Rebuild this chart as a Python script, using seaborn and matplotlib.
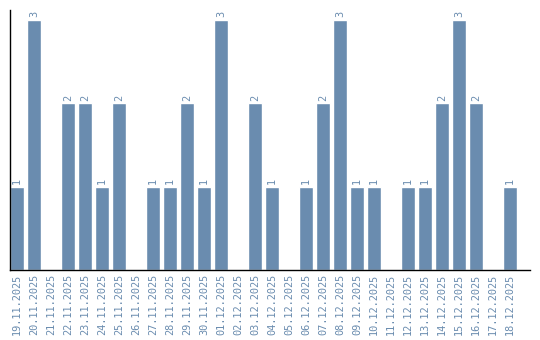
import matplotlib
matplotlib.use("Agg")
import matplotlib.pyplot as plt
import seaborn as sns
import pandas as pd

dates = ["19.11.2025", "20.11.2025", "21.11.2025", "22.11.2025", "23.11.2025",
         "24.11.2025", "25.11.2025", "26.11.2025", "27.11.2025", "28.11.2025",
         "29.11.2025", "30.11.2025", "01.12.2025", "02.12.2025", "03.12.2025",
         "04.12.2025", "05.12.2025", "06.12.2025", "07.12.2025", "08.12.2025",
         "09.12.2025", "10.12.2025", "11.12.2025", "12.12.2025", "13.12.2025",
         "14.12.2025", "15.12.2025", "16.12.2025", "17.12.2025", "18.12.2025"]
counts = [1, 3, 0, 2, 2, 1, 2, 0, 1, 1, 2, 1, 3, 0, 2, 1, 0, 1, 2, 3,
          1, 1, 0, 1, 1, 2, 3, 2, 0, 1]

df = pd.DataFrame({"date": dates, "count": counts})
color = "#6a8caf"

sns.set_style("white")
plt.rcParams['font.family'] = ['DejaVu Sans Mono', 'DejaVu Sans']

fig = plt.figure(figsize=(5.4, 3.4), dpi=100)
ax = fig.add_axes([10/540, 70/340, 520/540, 260/340])
sns.barplot(data=df, x="date", y="count", color=color, width=0.82,
            saturation=1, ax=ax, order=dates)

ax.set_xlim(-0.41, 30.18)
ax.set_ylim(0, 3.12)
ax.set_xlabel("")
ax.set_ylabel("")
ax.set_yticks([])
ax.tick_params(axis="x", length=0, pad=2.5, labelsize=7.4, labelcolor=color,
               rotation=90)
for s in ["top", "right"]:
    ax.spines[s].set_visible(False)
for s in ["left", "bottom"]:
    ax.spines[s].set_color("black")
    ax.spines[s].set_linewidth(1)

labels = [str(v) if v > 0 else "" for v in counts]
ax.bar_label(ax.containers[0], labels=labels, rotation=90, padding=2,
             fontsize=7.4, color=color)

fig.savefig("out.png", dpi=100)
